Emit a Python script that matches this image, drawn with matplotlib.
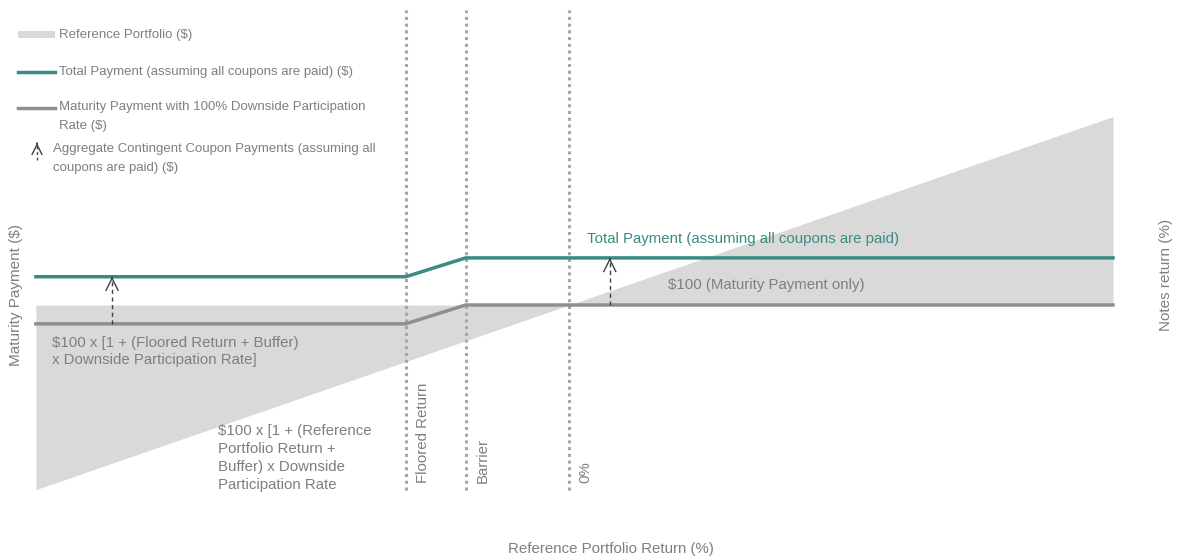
import numpy as np
import matplotlib.pyplot as plt
from matplotlib.patches import FancyArrowPatch, Rectangle
from matplotlib.lines import Line2D

plt.rcParams['font.family'] = ['Liberation Sans', 'DejaVu Sans']

# donnees (rendement du portefeuille de reference en %, paiements en $)
ref_x = [-98, 100]
ref_y = [2, 200]
floored = -30
barrier = -19
zero = 0
pay_x = [-98, floored, barrier, 100]
maturity_pay = [90, 90, 100, 100]
coupons = 25
total_pay = [v + coupons for v in maturity_pay]
arrow_x = [-84, 7.5]

teal = '#3b8a84'
gris_ligne = '#8f8f8f'
gris_txt = '#7f7f7f'
gris_fill = '#d9d9d9'

W, H = 1179, 560
fig = plt.figure(figsize=(W / 100, H / 100), dpi=100)
ax = fig.add_axes([0, 0, 1, 1])
# pixel 569 = 0%, 5.44 px par %; pixel 305 = $100, 1.884 px par $
ax.set_xlim((0 - 569) / 5.44, (W - 569) / 5.44)
ax.set_ylim(100 - (H - 305) / 1.884, 100 + 305 / 1.884)
ax.axis('off')

# portefeuille de reference
ax.fill_between(ref_x, [100, 100], ref_y, color=gris_fill, lw=0, zorder=1)

# lignes verticales
for xv in [floored, barrier, zero]:
    ax.vlines(xv, 1.8, 256.5, color='#a6a6a6', lw=2.2, linestyles=(0, (1, 1.2)), zorder=2)

ax.plot(pay_x, maturity_pay, color=gris_ligne, lw=2.5, zorder=3)
ax.plot(pay_x, total_pay, color=teal, lw=2.5, zorder=3)

# fleches coupons
for xa in arrow_x:
    base = np.interp(xa, pay_x, maturity_pay)
    ax.plot([xa, xa], [base, base + coupons - 1], color='#404040', lw=1, ls=(0, (3, 2.5)), zorder=4)
    ax.annotate('', xy=(xa, base + coupons), xytext=(xa, base + coupons - 0.5),
                arrowprops=dict(arrowstyle='->', color='#404040', lw=1, mutation_scale=22), zorder=4)

# textes verticaux
for xv, lab in [(floored, 'Floored Return'), (barrier, 'Barrier'), (zero, '0%')]:
    ax.text(xv + 3.1, 5.5, lab, rotation=90, ha='center', va='bottom', fontsize=10.8, color=gris_txt)

ax.text(-95, 83.6, '$100 x [1 + (Floored Return + Buffer)\nx Downside Participation Rate]',
        ha='left', va='top', fontsize=10.8, color=gris_txt, linespacing=1.24)
ax.text(-64.5, 36.6, '$100 x [1 + (Reference\nPortfolio Return +\nBuffer) x Downside\nParticipation Rate',
        ha='left', va='top', fontsize=10.8, color=gris_txt, linespacing=1.36)
ax.text(3.3, 131.3, 'Total Payment (assuming all coupons are paid)', ha='left', va='bottom',
        fontsize=10.8, color=teal)
ax.text(18.2, 110.5, '$100 (Maturity Payment only)', ha='left', va='center',
        fontsize=10.8, color=gris_txt)

# titres des axes
fig.text(16 / W, 1 - 295 / H, 'Maturity Payment ($)', rotation=90, ha='center', va='center',
         fontsize=11, color=gris_txt)
fig.text(1166 / W, 1 - 275 / H, 'Notes return (%)', rotation=90, ha='center', va='center',
         fontsize=11, color=gris_txt)
fig.text(611 / W, 1 - 549 / H, 'Reference Portfolio Return (%)', ha='center', va='center',
         fontsize=10.8, color=gris_txt)


# legende dessinee a la main (coordonnees pixel)
def px(x, y):
    return (x / W, 1 - y / H)


fig.patches.append(Rectangle(px(18, 38), 37 / W, 7 / H, transform=fig.transFigure,
                             color=gris_fill, lw=0))
fig.text(*px(59, 35), 'Reference Portfolio ($)', ha='left', va='center', fontsize=9.5, color=gris_txt)
fig.lines.append(Line2D([18 / W, 55 / W], [1 - 72 / H] * 2, transform=fig.transFigure,
                        color=teal, lw=2.5))
fig.text(*px(59, 72), 'Total Payment (assuming all coupons are paid) ($)', ha='left', va='center',
         fontsize=9.5, color=gris_txt)
fig.lines.append(Line2D([18 / W, 55 / W], [1 - 108 / H] * 2, transform=fig.transFigure,
                        color=gris_ligne, lw=2.5))
fig.text(*px(59, 101), 'Maturity Payment with 100% Downside Participation\nRate ($)', ha='left',
         va='top', fontsize=9.5, color=gris_txt, linespacing=1.78)
fig.lines.append(Line2D([37 / W, 37 / W], [1 - 160 / H, 1 - 145 / H], transform=fig.transFigure,
                        color='#404040', lw=1, ls=(0, (2, 2))))
fig.add_artist(FancyArrowPatch(px(37, 146), px(37, 143), transform=fig.transFigure,
                               arrowstyle='->', mutation_scale=18, color='#404040', lw=1))
fig.text(*px(53, 143), 'Aggregate Contingent Coupon Payments (assuming all\ncoupons are paid) ($)',
         ha='left', va='top', fontsize=9.5, color=gris_txt, linespacing=1.78)

fig.savefig('out.png', dpi=100)
